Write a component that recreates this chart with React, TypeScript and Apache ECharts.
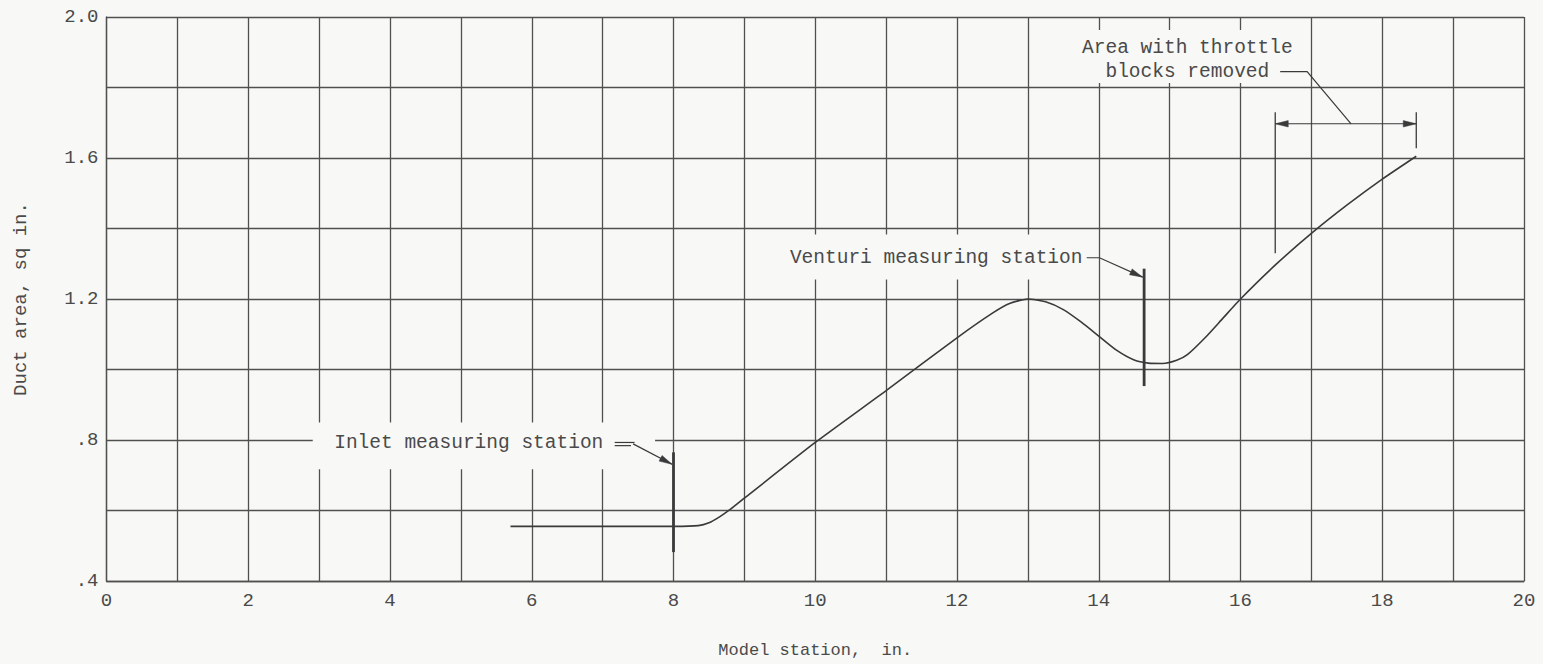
import React, { useEffect, useRef } from "react";
import * as echarts from "echarts";

// ---- data ----
const stationX = [5.7, 8.0, 8.35, 8.5, 8.65, 8.8, 9.0, 10.0, 11.0, 12.0, 12.5, 12.75, 13.0, 13.25, 13.5, 13.75, 14.0, 14.25, 14.5, 14.7, 14.9, 15.1, 15.25, 15.5, 15.75, 16.0, 16.5, 17.0, 17.5, 18.0, 18.48];
const ductArea = [0.555, 0.555, 0.557, 0.565, 0.582, 0.603, 0.635, 0.793, 0.94, 1.09, 1.16, 1.188, 1.2, 1.192, 1.17, 1.135, 1.095, 1.055, 1.027, 1.018, 1.017, 1.026, 1.042, 1.09, 1.145, 1.2, 1.298, 1.386, 1.466, 1.54, 1.605];

const xTickValues = [0, 2, 4, 6, 8, 10, 12, 14, 16, 18, 20];
const xTickLabels = ["0", "2", "4", "6", "8", "10", "12", "14", "16", "18", "20"];
const yTickValues = [0.4, 0.8, 1.2, 1.6, 2.0];
const yTickLabels = [".4", ".8", "1.2", "1.6", "2.0"];

// annotations in data coordinates
const inletBar = [[8, 0.765], [8, 0.482]];
const venturiBar = [[14.64, 1.286], [14.64, 0.953]];
const throttleLeftBar = [[16.49, 1.73], [16.49, 1.33]];
const throttleRightBar = [[18.48, 1.73], [18.48, 1.628]];
const throttleSpan = [[16.49, 1.697], [18.48, 1.697]];
const throttleLeader = [[16.56, 1.845], [16.94, 1.845], [17.56, 1.697]];
const venturiLeader = [[13.83, 1.317], [14.01, 1.317], [14.62, 1.262]];
const inletLeader = [[7.43, 0.789], [7.98, 0.731]];
const inletDouble1 = [[7.17, 0.793], [7.45, 0.793]];
const inletDouble2 = [[7.17, 0.784], [7.40, 0.784]];

const gaps = [
  [[2.91, 0.85], [7.74, 0.717]],
  [[9.2, 1.383], [13.93, 1.255]],
  [[13.52, 1.963], [16.83, 1.813]],
];

const labels = [
  { text: "Inlet measuring station", at: [7.01, 0.791], align: "right" },
  { text: "Venturi measuring station", at: [13.77, 1.317], align: "right" },
  { text: "Area with throttle", at: [15.25, 1.911], align: "center" },
  { text: "blocks removed", at: [15.25, 1.844], align: "center" },
];

const BG = "#f8f8f6";
const INK = "#3a3a3a";
const GRID = "#505050";
const TXT = "#4a4a4a";
const FONT = '"Liberation Mono", "DejaVu Sans Mono", monospace';

export default function App() {
  const ref = useRef<HTMLDivElement>(null);
  useEffect(() => {
    if (!ref.current) return;
    const chart = echarts.init(ref.current, undefined, { renderer: "svg" });
    const findLabel = (v: number, vals: number[], labs: string[]) => {
      const i = vals.findIndex((t) => Math.abs(t - v) < 1e-6);
      return i >= 0 ? labs[i] : "";
    };
    chart.setOption({
      animation: false,
      backgroundColor: BG,
      grid: { left: 106.5, right: 19, top: 17, bottom: 82 },
      xAxis: {
        type: "value",
        min: 0,
        max: 20,
        interval: 1,
        axisLine: { show: true, lineStyle: { color: GRID, width: 1.3 } },
        axisTick: { show: false },
        splitLine: { show: true, lineStyle: { color: GRID, width: 1.3 } },
        axisLabel: {
          margin: 10,
          color: TXT,
          fontFamily: FONT,
          fontSize: 19,
          formatter: (v: number) => findLabel(v, xTickValues, xTickLabels),
        },
        name: "Model station,  in.",
        nameLocation: "middle",
        nameGap: 61,
        nameTextStyle: { color: TXT, fontFamily: FONT, fontSize: 17 },
      },
      yAxis: {
        type: "value",
        min: 0.4,
        max: 2.0,
        interval: 0.2,
        axisLine: { show: true, lineStyle: { color: GRID, width: 1.3 } },
        axisTick: { show: false },
        splitLine: { show: true, lineStyle: { color: GRID, width: 1.3 } },
        axisLabel: {
          margin: 8,
          color: TXT,
          fontFamily: FONT,
          fontSize: 19,
          formatter: (v: number) => findLabel(v, yTickValues, yTickLabels),
        },
        name: "Duct area, sq in.",
        nameLocation: "middle",
        nameGap: 76,
        nameRotate: 90,
        nameTextStyle: { color: TXT, fontFamily: FONT, fontSize: 19 },
      },
      series: [
        {
          type: "line",
          data: stationX.map((x, i) => [x, ductArea[i]]),
          showSymbol: false,
          smooth: 0.2,
          lineStyle: { color: INK, width: 1.6 },
          z: 3,
        },
      ],
    });

    const px = (p: number[]) => chart.convertToPixel({ gridIndex: 0 }, p) as number[];
    const line = (seg: number[][], w: number) => {
      const a = px(seg[0]);
      const b = px(seg[1]);
      return {
        type: "line",
        z: 2,
        shape: { x1: a[0], y1: a[1], x2: b[0], y2: b[1] },
        style: { stroke: INK, lineWidth: w },
      };
    };
    const poly = (pts: number[][], w: number) => ({
      type: "polyline",
      z: 2,
      shape: { points: pts.map(px) },
      style: { stroke: INK, lineWidth: w, fill: null },
    });
    const arrow = (tipD: number[], fromD: number[], len = 13, half = 3.2) => {
      const tip = px(tipD);
      const from = px(fromD);
      const dx = tip[0] - from[0];
      const dy = tip[1] - from[1];
      const L = Math.hypot(dx, dy) || 1;
      const ux = dx / L;
      const uy = dy / L;
      const bx = tip[0] - ux * len;
      const by = tip[1] - uy * len;
      return {
        type: "polygon",
        z: 2,
        shape: {
          points: [
            [tip[0], tip[1]],
            [bx - uy * half, by + ux * half],
            [bx + uy * half, by - ux * half],
          ],
        },
        style: { fill: INK, stroke: INK, lineWidth: 0.5 },
      };
    };

    const elements: any[] = [];
    gaps.forEach((g) => {
      const a = px(g[0]);
      const b = px(g[1]);
      elements.push({
        type: "rect",
        z: 1,
        shape: {
          x: Math.min(a[0], b[0]),
          y: Math.min(a[1], b[1]),
          width: Math.abs(b[0] - a[0]),
          height: Math.abs(b[1] - a[1]),
        },
        style: { fill: BG },
      });
    });
    elements.push(line(inletBar, 2.8));
    elements.push(line(venturiBar, 2.8));
    elements.push(line(throttleLeftBar, 1.3));
    elements.push(line(throttleRightBar, 1.3));
    elements.push(line(throttleSpan, 1.1));
    elements.push(arrow(throttleSpan[0], throttleSpan[1]));
    elements.push(arrow(throttleSpan[1], throttleSpan[0]));
    elements.push(poly(throttleLeader, 1.2));
    elements.push(poly(venturiLeader, 1.2));
    elements.push(arrow(venturiLeader[2], venturiLeader[1]));
    elements.push(line(inletLeader, 1.2));
    elements.push(line(inletDouble1, 1.2));
    elements.push(line(inletDouble2, 1.2));
    elements.push(arrow(inletLeader[1], inletLeader[0]));
    labels.forEach((l) => {
      const p = px(l.at);
      elements.push({
        type: "text",
        z: 2,
        x: p[0],
        y: p[1],
        style: {
          text: l.text,
          font: `19.5px ${FONT}`,
          fill: TXT,
          align: l.align,
          verticalAlign: "middle",
          textAlign: l.align,
          textVerticalAlign: "middle",
        },
      });
    });
    chart.setOption({ graphic: { elements } });

    return () => chart.dispose();
  }, []);
  return (
    <div
      ref={ref}
      style={{ position: "fixed", left: 0, top: 0, width: 1543, height: 664, background: BG }}
    />
  );
}
